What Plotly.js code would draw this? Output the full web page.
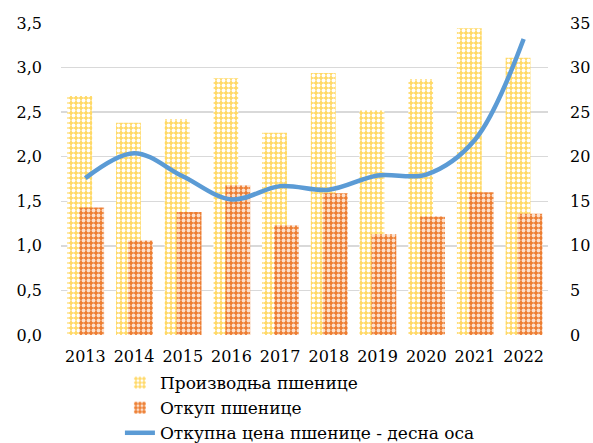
<!DOCTYPE html>
<html>
<head>
<meta charset="utf-8">
<script src="https://cdn.plot.ly/plotly-3.0.1.min.js"></script>
<style>html,body{margin:0;padding:0;background:#fff;}#chart{width:593px;height:443px;}</style>
</head>
<body>
<div id="chart"></div>
<script>
const years = ['2013','2014','2015','2016','2017','2018','2019','2020','2021','2022'];
const production = [2.68, 2.38, 2.42, 2.88, 2.27, 2.94, 2.52, 2.87, 3.44, 3.11];
const purchase = [1.43, 1.06, 1.38, 1.68, 1.23, 1.59, 1.13, 1.33, 1.60, 1.36];
const price = [17.6, 20.4, 17.8, 15.2, 16.7, 16.3, 17.9, 18.0, 21.9, 33.2];
const names = ['Производња пшенице', 'Откуп пшенице', 'Откупна цена пшенице - десна оса'];
const leftTicks = [0, 0.5, 1, 1.5, 2, 2.5, 3, 3.5];
const rightTicks = [0, 5, 10, 15, 20, 25, 30, 35];

const FAM = 'DejaVu Serif';
const F = (s) => ({family: FAM, size: s, color: '#000'});

const traces = [
  {
    type: 'bar', x: years, y: production, name: names[0],
    width: 0.51, offset: -0.37,
    marker: {color: '#FFD966', line: {width: 0},
      pattern: {shape: '.', fgcolor: '#FFFFFF', bgcolor: '#FFD966', size: 5, solidity: 0.45, fillmode: 'replace'}}
  },
  {
    type: 'bar', x: years, y: purchase, name: names[1],
    width: 0.51, offset: -0.125,
    marker: {color: '#ED7D31', line: {width: 0},
      pattern: {shape: '.', fgcolor: '#FCE0CC', bgcolor: '#ED7D31', size: 5, solidity: 0.45, fillmode: 'replace'}}
  },
  {
    type: 'scatter', mode: 'lines', x: years, y: price, name: names[2], yaxis: 'y2',
    line: {color: '#5B9BD5', width: 4.5, shape: 'spline', smoothing: 1}
  }
];

const layout = {
  width: 593, height: 443,
  margin: {l: 61, r: 45, t: 23, b: 108, autoexpand: false},
  paper_bgcolor: '#fff', plot_bgcolor: '#fff',
  separators: ',.',
  barmode: 'overlay',
  showlegend: true,
  font: F(16),
  xaxis: {
    type: 'category', showgrid: false, zeroline: false, showline: false,
    ticks: '', tickfont: F(16), ticklabelstandoff: 10, automargin: false
  },
  yaxis: {
    range: [0, 3.5], tickvals: leftTicks, tickformat: '.1f',
    showgrid: true, gridcolor: '#D9D9D9', gridwidth: 1.3, zeroline: false, showline: false,
    ticks: '', tickfont: F(16), ticklabelstandoff: 18, automargin: false
  },
  yaxis2: {
    range: [0, 35], tickvals: rightTicks, overlaying: 'y', side: 'right',
    showgrid: false, zeroline: false, showline: false,
    ticks: '', tickfont: F(16), ticklabelstandoff: 21, automargin: false
  },
  legend: {
    orientation: 'v', x: 0.121, xanchor: 'left', yref: 'container', y: 0.176, yanchor: 'top',
    font: F(17), tracegroupgap: 0, bgcolor: 'rgba(0,0,0,0)'
  }
};

Plotly.newPlot('chart', traces, layout, {staticPlot: true, displayModeBar: false});
</script>
</body>
</html>
